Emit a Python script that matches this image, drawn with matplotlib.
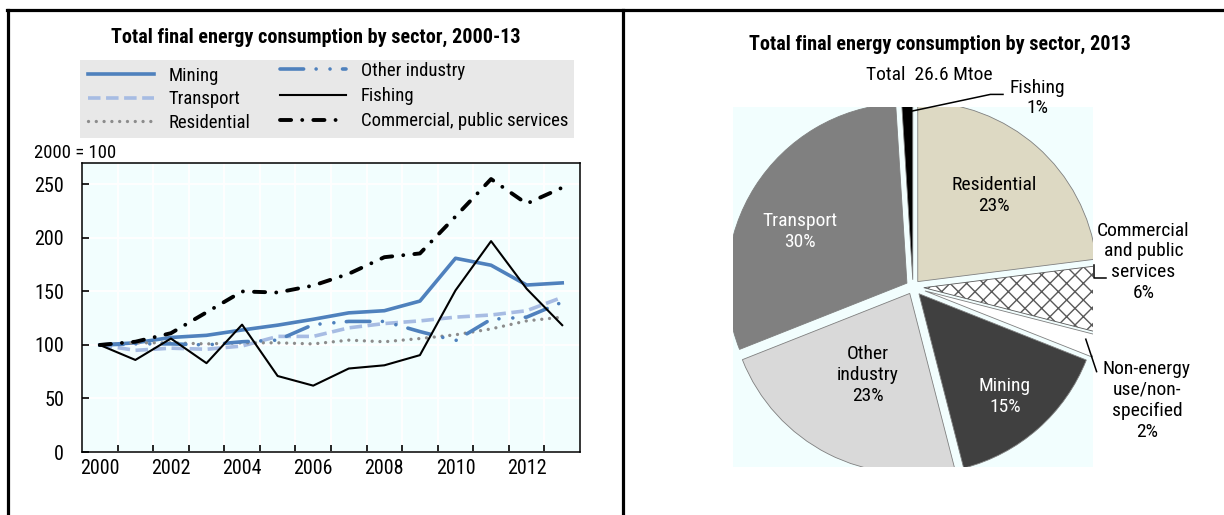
import matplotlib
matplotlib.use("Agg")
import matplotlib.pyplot as plt
from matplotlib.lines import Line2D
from matplotlib.patches import Rectangle

plt.rcParams['font.family'] = ['Roboto Condensed', 'DejaVu Sans']
plt.rcParams['lines.scale_dashes'] = False
plt.rcParams['hatch.color'] = '#595959'
plt.rcParams['hatch.linewidth'] = 1.0

# index, 2000 = 100
years = list(range(2000, 2014))
mining = [100, 102, 107, 109, 114, 118.5, 124, 130, 132, 141, 181, 174.5, 156, 158]
transport = [100, 95, 97, 96, 99, 108, 108, 116, 120, 122.5, 126, 128, 132, 144.5]
residential = [100, 102, 102, 101, 102, 102, 101, 104.5, 103, 106, 109.5, 115, 122.5, 126]
other_industry = [100, 101, 101, 100, 103, 104.5, 119, 122, 122, 112.5, 104, 124, 126, 140]
fishing = [100, 86, 106, 83, 119, 71, 62, 78, 81, 90.5, 151, 197, 152.5, 118.5]
commercial = [100, 103, 111, 130.5, 150, 149, 155.5, 166.5, 182, 185.5, 220, 255, 232, 247]

# 2013 shares, %
sectors = ['Fishing', 'Residential', 'Commercial and public services',
           'Non-energy use/non-specified', 'Mining', 'Other industry', 'Transport']
shares = [1, 23, 6, 2, 15, 23, 30]
total_mtoe = 26.6

W, H = 1224, 515
fig = plt.figure(figsize=(W / 100, H / 100), dpi=100)


def fx(px):
    return px / W


def fy(py):
    return 1 - py / H


# outer frame and divider
for xs, ys in [((7, W), (10, 10)), ((8, 8), (10, H)), ((623, 623), (10, H))]:
    fig.add_artist(Line2D([fx(x) for x in xs], [fy(y) for y in ys], color='black', lw=2.3))

# ---- left: line chart ----
ax = fig.add_axes([fx(82), fy(452), fx(580) - fx(82), fy(163) - fy(452)])
ax.set_facecolor('#F2FEFE')
x = list(range(len(years)))

blue = '#4F81BD'
h_min, = ax.plot(x, mining, color=blue, lw=2.6, solid_joinstyle='round')
h_tra, = ax.plot(x, transport, color='#A7BCE3', lw=2.6, dashes=(9, 4), dash_capstyle='butt')
h_res, = ax.plot(x, residential, color='#8C8C8C', lw=2.4, dashes=(0.01, 5.6), dash_capstyle='round')
h_oth, = ax.plot(x, other_industry, color=blue, lw=2.6, dashes=(17, 9, 0.01, 10, 0.01, 9),
                 dash_capstyle='round')
h_fis, = ax.plot(x, fishing, color='black', lw=1.5)
h_com, = ax.plot(x, commercial, color='black', lw=2.8, dashes=(8, 8, 0.01, 8),
                 dash_capstyle='round')

ax.set_xlim(-0.5, len(years) - 0.5)
ax.set_ylim(0, 270)
ax.set_xticks(x[::2])
ax.set_xticklabels([str(y) for y in years[::2]])
ax.set_xticks([i + 0.5 for i in x[:-1]], minor=True)
ax.set_yticks(range(0, 251, 50))
ax.tick_params(axis='x', which='major', length=0, labelsize=14.5, pad=5)
ax.tick_params(axis='x', which='minor', direction='in', length=5, width=1.2)
ax.tick_params(axis='y', direction='in', length=5, width=1.2, labelsize=14.5, pad=13)
ax.grid(axis='x', which='minor', color='white', lw=1.4)
ax.grid(axis='y', which='major', color='white', lw=1.4)
ax.set_axisbelow(True)
for s in ax.spines.values():
    s.set_linewidth(1.1)
    s.set_color('black')

fig.text(fx(316), fy(37), 'Total final energy consumption by sector, 2000-13',
         ha='center', va='center', fontsize=14.5, fontweight='bold')
fig.text(fx(34), fy(153), '2000 = 100', ha='left', va='center', fontsize=13.5)

# legend panel
fig.add_artist(Rectangle((fx(80), fy(138)), fx(574) - fx(80), fy(60) - fy(138),
                         transform=fig.transFigure, facecolor='#E8E8E8', edgecolor='none'))
leg_kw = dict(frameon=False, fontsize=13.5, handlelength=3.5, handletextpad=0.8,
              borderpad=0, borderaxespad=0, loc='upper left')
fig.legend([h_min, h_tra, h_res], ['Mining', 'Transport', 'Residential'],
           bbox_to_anchor=(fx(88), fy(67)), labelspacing=0.28, **leg_kw)
fig.legend([h_oth, h_fis, h_com], ['Other industry', 'Fishing', 'Commercial, public services'],
           bbox_to_anchor=(fx(280), fy(62)), labelspacing=0.38, **leg_kw)

# ---- right: pie chart ----
pax = fig.add_axes([fx(733), fy(467), fx(1093) - fx(733), fy(107) - fy(467)])
colors = ['black', '#DDD9C3', 'white', 'white', '#404040', '#D9D9D9', '#808080']
explode = [0.04, 0.04, 0.06, 0.07, 0.05, 0.04, 0.04]
wedges, _ = pax.pie(shares, colors=colors, explode=explode, startangle=93.6,
                    counterclock=False, frame=True,
                    wedgeprops=dict(edgecolor='#7F7F7F', linewidth=0.6))
wedges[2].set_hatch('xx')
wedges[2].set_edgecolor('#595959')
pax.set_xlim(-1, 1)
pax.set_ylim(-1, 1)
pax.set_aspect('equal')
pax.set_facecolor('#F2FEFE')
pax.set_xticks([])
pax.set_yticks([])
for s in pax.spines.values():
    s.set_visible(False)
for w in wedges:
    w.set_clip_on(True)
    w.set_clip_path(pax.patch)

lab = dict(ha='center', va='center', fontsize=14, linespacing=1.2)
pax.text(-0.63, 0.31, 'Transport\n30%', color='white', **lab)
pax.text(0.45, 0.51, 'Residential\n23%', color='black', **lab)
pax.text(-0.25, -0.49, 'Other\nindustry\n23%', color='black', **lab)
pax.text(0.51, -0.61, 'Mining\n15%', color='white', **lab)
pax.text(0.69, 1.05, 'Fishing\n1%', clip_on=False, **lab)
pax.text(1.28, 0.14, 'Commercial\nand public\nservices\n6%', clip_on=False, **lab)
pax.text(1.30, -0.63, 'Non-energy\nuse/non-\nspecified\n2%', clip_on=False, **lab)
pax.text(0.09, 1.18, f'Total  {total_mtoe} Mtoe', clip_on=False, **lab)

# leader lines
pax.plot([-0.04, 0.43, 0.50], [0.97, 1.07, 1.07], color='black', lw=1.1, clip_on=False)
pax.plot([1.005, 1.005, 1.07], [0.12, 0.05, 0.05], color='black', lw=1.1, clip_on=False)
pax.plot([0.96, 1.02], [-0.29, -0.47], color='black', lw=1.1, clip_on=False)

fig.text(fx(940), fy(44), 'Total final energy consumption by sector, 2013',
         ha='center', va='center', fontsize=14.5, fontweight='bold')

fig.savefig('out.png', dpi=100)
